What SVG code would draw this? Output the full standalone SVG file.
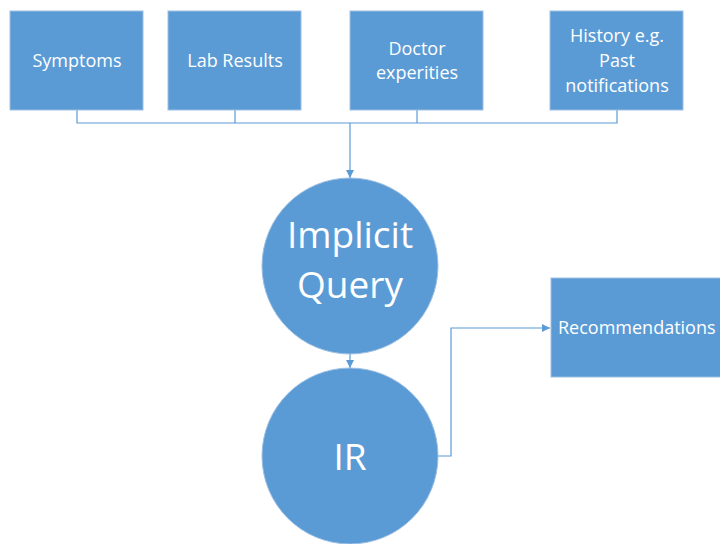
<svg xmlns="http://www.w3.org/2000/svg" width="720" height="544" viewBox="0 0 720 544">
<defs>
<style>
.box{fill:#5b9bd5;stroke:#9dbfe3;stroke-width:1}
.t{fill:#ffffff;font-family:"Open Sans","Noto Sans","Liberation Sans",sans-serif;font-size:18px;text-anchor:middle}
.ts{text-anchor:start}
.big{fill:#ffffff;font-family:"Open Sans","Noto Sans","Liberation Sans",sans-serif;font-size:37px;text-anchor:middle}
.c{fill:none;stroke:#5b9bd5;stroke-width:1.2}
</style>
<marker id="arr" viewBox="0 0 10 10" refX="10" refY="5" markerWidth="8" markerHeight="8" markerUnits="userSpaceOnUse" orient="auto">
<path d="M0,0 L10,5 L0,10 z" fill="#5b9bd5"/>
</marker>
</defs>
<rect width="720" height="544" fill="#ffffff"/>
<g id="connectors">
<path class="c" d="M77,110 V123 H617 V110"/>
<path class="c" d="M235,110 V123"/>
<path class="c" d="M417,110 V123"/>
<path class="c" d="M350,123 V178" marker-end="url(#arr)"/>
<path class="c" d="M350,354 V368" marker-end="url(#arr)"/>
<path class="c" d="M438,456 H451 V328 H550" marker-end="url(#arr)"/>
</g>
<g id="symptoms">
<rect class="box" x="10" y="11" width="133" height="99"/>
<text class="t" x="77" y="67">Symptoms</text>
</g>
<g id="lab">
<rect class="box" x="168" y="11" width="133" height="99"/>
<text class="t" x="235" y="67">Lab Results</text>
</g>
<g id="doctor">
<rect class="box" x="350" y="11" width="133" height="99"/>
<text class="t" x="417" y="55">Doctor</text>
<text class="t" x="417" y="79">experities</text>
</g>
<g id="history">
<rect class="box" x="550" y="11" width="133" height="99"/>
<text class="t" x="617" y="42">History e.g.</text>
<text class="t" x="617" y="67">Past</text>
<text class="t" x="617" y="92">notifications</text>
</g>
<g id="query">
<circle class="box" cx="350" cy="266" r="88"/>
<text class="big" x="350" y="248">Implicit</text>
<text class="big" x="350" y="298">Query</text>
</g>
<g id="ir">
<circle class="box" cx="350" cy="456" r="88"/>
<text class="big" x="350" y="470">IR</text>
</g>
<g id="recommendations">
<rect class="box" x="551" y="278" width="175" height="99"/>
<text class="t ts" x="558" y="334">Recommendations</text>
</g>
</svg>
